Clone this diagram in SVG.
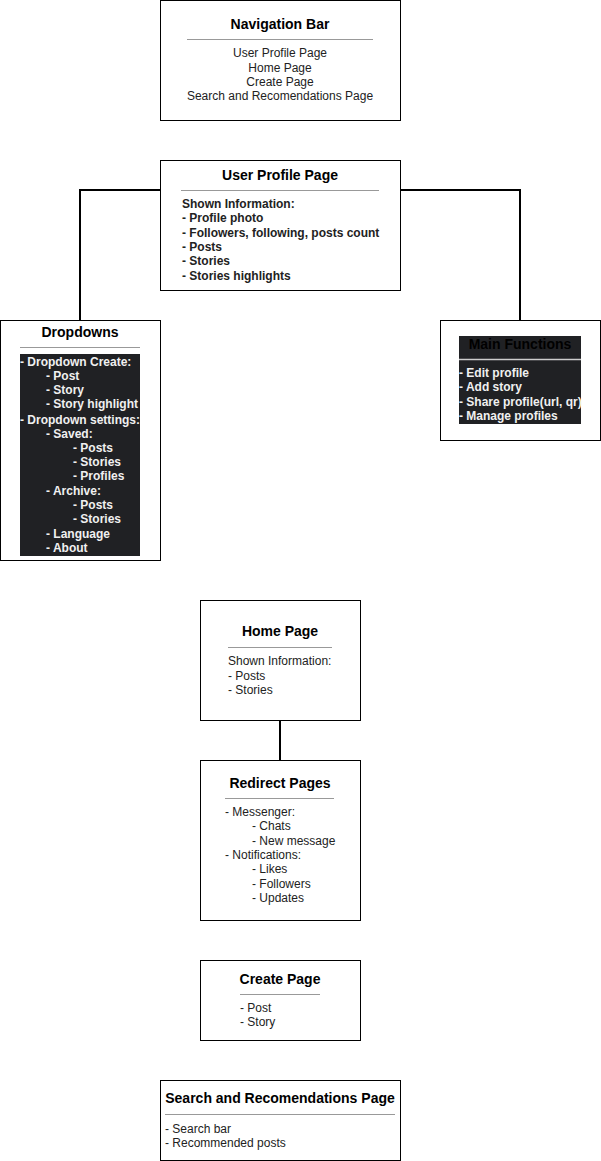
<svg xmlns="http://www.w3.org/2000/svg" width="601" height="1161" viewBox="0 0 601 1161">
<style>
.box{fill:#fff;stroke:#000;stroke-width:1}
.t{font-family:"Liberation Sans",Arial,sans-serif;font-size:14px;font-weight:bold;fill:#000;text-anchor:middle}
.b{font-family:"Liberation Sans",Arial,sans-serif;font-size:12px;fill:#222}
.bb{font-family:"Liberation Sans",Arial,sans-serif;font-size:12px;font-weight:bold;fill:#222}
.w{font-family:"Liberation Sans",Arial,sans-serif;font-size:12px;font-weight:bold;fill:#f0f0f0}
.c{text-anchor:middle}
.sep{stroke:#999;stroke-width:1}
.edge{fill:none;stroke:#000;stroke-width:2}
</style>
<g id="connectors">
<polyline class="edge" points="160,190 80,190 80,320"/>
<polyline class="edge" points="400,190 520,190 520,320"/>
<line class="edge" x1="280" y1="720" x2="280" y2="760"/>
</g>
<g id="navigation-bar">
<rect class="box" x="160.5" y="0.5" width="240" height="120"/>
<text class="t" x="280" y="29">Navigation Bar</text>
<line class="sep" x1="187" y1="39.5" x2="373" y2="39.5"/>
<text class="b c" x="280" y="57">User Profile Page</text>
<text class="b c" x="280" y="72">Home Page</text>
<text class="b c" x="280" y="86">Create Page</text>
<text class="b c" x="280" y="100">Search and Recomendations Page</text>
</g>
<g id="user-profile-page">
<rect class="box" x="160.5" y="160.5" width="240" height="130"/>
<text class="t" x="280" y="180">User Profile Page</text>
<line class="sep" x1="181" y1="190.5" x2="379" y2="190.5"/>
<text class="bb" x="182" y="208">Shown Information:</text>
<text class="bb" x="182" y="222">- Profile photo</text>
<text class="bb" x="182" y="237">- Followers, following, posts count</text>
<text class="bb" x="182" y="251">- Posts</text>
<text class="bb" x="182" y="265">- Stories</text>
<text class="bb" x="182" y="280">- Stories highlights</text>
</g>
<g id="dropdowns">
<rect class="box" x="0.5" y="320.5" width="160" height="240"/>
<text class="t" x="80" y="337">Dropdowns</text>
<line class="sep" x1="20" y1="347.5" x2="140" y2="347.5"/>
<rect x="20" y="354" width="120" height="202" fill="#202124"/>
<text class="w" x="20" y="366">- Dropdown Create:</text>
<text class="w" x="46" y="380">- Post</text>
<text class="w" x="46" y="394">- Story</text>
<text class="w" x="46" y="408">- Story highlight</text>
<text class="w" x="20" y="424">- Dropdown settings:</text>
<text class="w" x="46" y="438">- Saved:</text>
<text class="w" x="73" y="452">- Posts</text>
<text class="w" x="73" y="466">- Stories</text>
<text class="w" x="73" y="480">- Profiles</text>
<text class="w" x="46" y="495">- Archive:</text>
<text class="w" x="73" y="509">- Posts</text>
<text class="w" x="73" y="523">- Stories</text>
<text class="w" x="46" y="538">- Language</text>
<text class="w" x="46" y="552">- About</text>
</g>
<g id="main-functions">
<rect class="box" x="440.5" y="320.5" width="160" height="120"/>
<rect x="459" y="336" width="122" height="88" fill="#202124"/>
<text class="t" x="520" y="349" fill="#000">Main Functions</text>
<line x1="459" y1="359.5" x2="581" y2="359.5" stroke="#ccc" stroke-width="1.5"/>
<text class="w" x="459" y="377">- Edit profile</text>
<text class="w" x="459" y="391">- Add story</text>
<text class="w" x="459" y="406">- Share profile(url, qr)</text>
<text class="w" x="459" y="420">- Manage profiles</text>
</g>
<g id="home-page">
<rect class="box" x="200.5" y="600.5" width="160" height="120"/>
<text class="t" x="280" y="636">Home Page</text>
<line class="sep" x1="228" y1="647.5" x2="332" y2="647.5"/>
<text class="b" x="228" y="665">Shown Information:</text>
<text class="b" x="228" y="680">- Posts</text>
<text class="b" x="228" y="694">- Stories</text>
</g>
<g id="redirect-pages">
<rect class="box" x="200.5" y="760.5" width="160" height="160"/>
<text class="t" x="280" y="788">Redirect Pages</text>
<line class="sep" x1="225" y1="798.5" x2="334" y2="798.5"/>
<text class="b" x="225" y="816">- Messenger:</text>
<text class="b" x="252" y="830">- Chats</text>
<text class="b" x="252" y="845">- New message</text>
<text class="b" x="225" y="859">- Notifications:</text>
<text class="b" x="252" y="873">- Likes</text>
<text class="b" x="252" y="888">- Followers</text>
<text class="b" x="252" y="902">- Updates</text>
</g>
<g id="create-page">
<rect class="box" x="200.5" y="960.5" width="160" height="80"/>
<text class="t" x="280" y="984">Create Page</text>
<line class="sep" x1="240" y1="994.5" x2="320" y2="994.5"/>
<text class="b" x="240" y="1012">- Post</text>
<text class="b" x="240" y="1026">- Story</text>
</g>
<g id="search-page">
<rect class="box" x="160.5" y="1080.5" width="240" height="80"/>
<text class="t" x="280" y="1103">Search and Recomendations Page</text>
<line class="sep" x1="165" y1="1114.5" x2="395" y2="1114.5"/>
<text class="b" x="165" y="1133">- Search bar</text>
<text class="b" x="165" y="1147">- Recommended posts</text>
</g>
</svg>
